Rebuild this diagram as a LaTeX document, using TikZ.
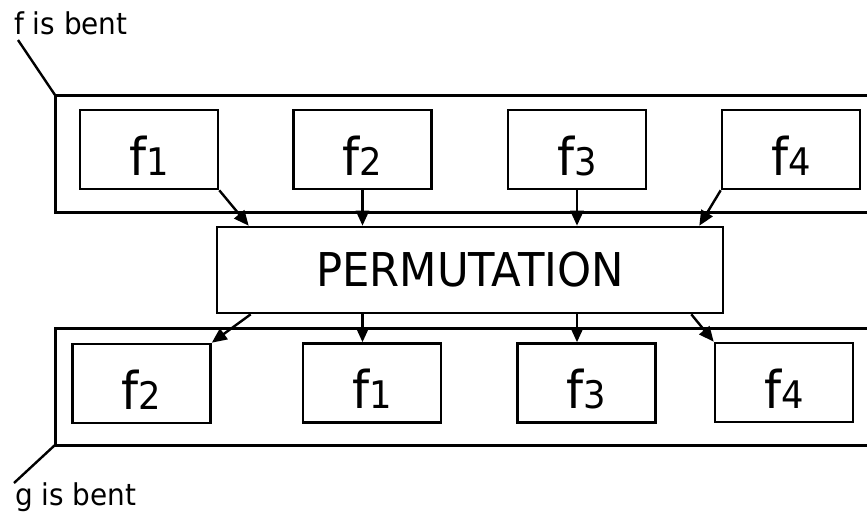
\documentclass[tikz,border=0pt]{standalone}
\usepackage{fontspec}
\setmainfont[FakeStretch=0.93]{DejaVu Sans}
\usetikzlibrary{arrows.meta,calc}
\tikzset{
  fbox/.style={draw, line width=2.6pt, minimum width=138pt, minimum height=79pt, inner sep=0pt, text height=51pt, text depth=0pt},
  permbox/.style={draw, line width=2.6pt, minimum width=506pt, minimum height=86pt, inner sep=0pt, text height=32pt, text depth=0pt},
  outer/.style={line width=3pt},
  arr/.style={line width=2.4pt, -{Triangle[length=15pt,width=13pt]}},
  lead/.style={line width=2.4pt},
  lbl/.style={inner sep=0pt, anchor=base west, font=\fontsize{30}{34}\selectfont}
}
\newcommand{\fsub}[1]{{\fontsize{52}{60}\selectfont f{\fontsize{38}{42}\selectfont #1}}}
\begin{document}
\begin{tikzpicture}[x=1pt,y=-1pt]
\useasboundingbox (0,0) rectangle (867,514);
% outer frames
\coordinate (otl) at (55,95);
\coordinate (obl) at (55,445);
\draw[outer] (867,95) -- (otl) -- (55,212) -- (867,212);
\draw[outer] (867,328) -- (55,328) -- (obl) -- (867,445);
% labels
\node[lbl] (flab) at (14,34) {f is bent};
\node[lbl] (glab) at (15,505) {g is bent};
\coordinate (fl) at (18,40);
\coordinate (gl) at (14,483);
\draw[lead] (fl) -- (otl);
\draw[lead] (obl) -- (gl);
% top boxes
\node[fbox] (t1) at (149,149.5) {\fsub{1}};
\node[fbox] (t2) at (362.5,149.5) {\fsub{2}};
\node[fbox] (t3) at (577,149.5) {\fsub{3}};
\node[fbox] (t4) at (791,149.5) {\fsub{4}};
% permutation
\node[permbox, font=\fontsize{46.6}{50}\selectfont] (perm) at (470,270) {PERMUTATION};
% bottom boxes
\node[fbox] (b2) at (141.5,383.5) {\fsub{2}};
\node[fbox] (b1) at (372,383) {\fsub{1}};
\node[fbox] (b3) at (586.5,383) {\fsub{3}};
\node[fbox] (b4) at (784,382.5) {\fsub{4}};
% arrows in
\draw[arr] (t1.south east) -- ($(perm.north west)+(33,0)$);
\draw[arr] (t2.south) -- (t2.south |- perm.north);
\draw[arr] (t3.south) -- (t3.south |- perm.north);
\draw[arr] (t4.south west) -- ($(perm.north east)+(-25,0)$);
% arrows out
\draw[arr] ($(perm.south west)+(35,0)$) -- (b2.north east);
\draw[arr] (perm.south -| t2.south) -- (b1.north -| t2.south);
\draw[arr] (perm.south -| t3.south) -- (b3.north -| t3.south);
\draw[arr] ($(perm.south east)+(-33,0)$) -- (b4.north west);
\end{tikzpicture}
\end{document}
